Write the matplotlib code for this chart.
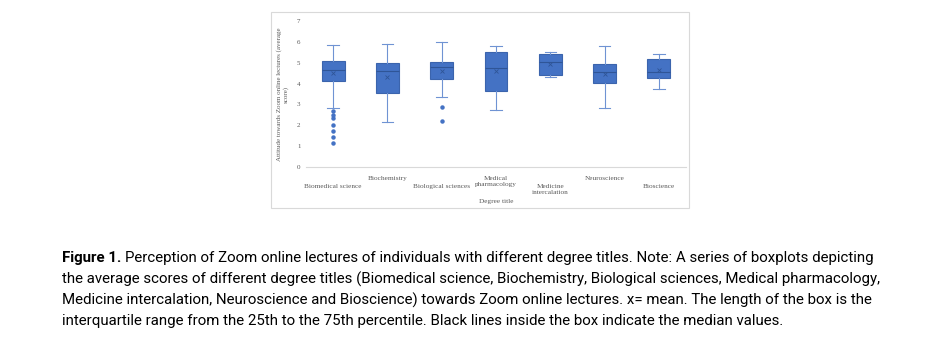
import matplotlib.pyplot as plt
import matplotlib.patches as mpatches
from matplotlib import font_manager

# data
degrees = ["Biomedical science", "Biochemistry", "Biological sciences",
           "Medical\npharmacology", "Medicine\nintercalation", "Neuroscience", "Bioscience"]
whislo = [2.81, 2.16, 3.38, 2.73, 4.33, 2.81, 3.76]
q1     = [4.13, 3.54, 4.21, 3.62, 4.40, 4.02, 4.25]
med    = [4.63, 4.60, 4.78, 4.73, 5.02, 4.54, 4.54]
q3     = [5.08, 5.00, 5.05, 5.52, 5.44, 4.94, 5.19]
whishi = [5.86, 5.92, 5.97, 5.78, 5.49, 5.79, 5.44]
means  = [4.49, 4.30, 4.60, 4.62, 4.94, 4.48, 4.65]
fliers = [[2.67, 2.49, 2.33, 2.0, 1.71, 1.43, 1.13], [], [2.86, 2.22], [], [], [], []]
label_low = [True, False, True, False, True, False, True]

names = [f.name for f in font_manager.fontManager.ttflist]
cap_font = "Liberation Sans Narrow" if "Liberation Sans Narrow" in names else "Roboto"
serif = "Liberation Serif"

W, H = 945, 345
fig = plt.figure(figsize=(W / 100, H / 100), dpi=100)

# chart frame
fig.patches.append(mpatches.Rectangle((271 / W, 1 - 208 / H), 418 / W, 196 / H,
                                      transform=fig.transFigure, fill=False,
                                      edgecolor="#d9d9d9", linewidth=0.8))

ax = fig.add_axes([306 / W, 1 - 167 / H, 380 / W, 146 / H])

stats = []
for i in range(len(degrees)):
    stats.append(dict(whislo=whislo[i], q1=q1[i], med=med[i], q3=q3[i],
                      whishi=whishi[i], mean=means[i], fliers=fliers[i]))

ax.bxp(stats, positions=range(len(degrees)), widths=0.42, patch_artist=True,
       showmeans=True,
       boxprops=dict(facecolor="#4472C4", edgecolor="#3B64AD", linewidth=0.8),
       medianprops=dict(color="#2F5597", linewidth=0.8),
       whiskerprops=dict(color="#6F93D3", linewidth=0.8),
       capprops=dict(color="#6F93D3", linewidth=0.8),
       meanprops=dict(marker="x", markeredgecolor="#2F5597", markersize=3.5, markeredgewidth=0.6),
       flierprops=dict(marker="o", markerfacecolor="#4472C4", markeredgecolor="#4472C4",
                       markersize=2.2))

ax.set_xlim(-0.5, len(degrees) - 0.5)
ax.set_ylim(0, 7)
ax.set_yticks(range(8))
ax.tick_params(axis="y", length=0, labelsize=5, labelcolor="#595959", pad=4)
ax.tick_params(axis="x", length=0)
ax.set_xticks([])
for lbl in ax.get_yticklabels():
    lbl.set_family(serif)
for s in ["top", "right", "left"]:
    ax.spines[s].set_visible(False)
ax.spines["bottom"].set_color("#d9d9d9")
ax.spines["bottom"].set_linewidth(0.8)

# staggered category labels, like the Excel original
for i, name in enumerate(degrees):
    off = -17 if label_low[i] else -9
    ax.annotate(name, xy=(i, 0), xycoords=("data", "axes fraction"),
                xytext=(0, off), textcoords="offset pixels", ha="center", va="top",
                fontsize=5.2, family=serif, color="#595959", linespacing=1.2)

ax.annotate("Degree title", xy=(0.5, 0), xycoords="axes fraction", xytext=(0, -34),
            textcoords="offset pixels", ha="center", va="center", fontsize=5.2,
            family=serif, color="#595959")
ax.set_ylabel("Attitude towards Zoom online lectures (average\nscore)", fontsize=5,
              family=serif, color="#595959", labelpad=6, linespacing=1.2)

caption = [
    "Perception of Zoom online lectures of individuals with different degree titles. Note: A series of boxplots depicting",
    "the average scores of different degree titles (Biomedical science, Biochemistry, Biological sciences, Medical pharmacology,",
    "Medicine intercalation, Neuroscience and Bioscience) towards Zoom online lectures. x= mean. The length of the box is the",
    "interquartile range from the 25th to the 75th percentile. Black lines inside the box indicate the median values.",
]
fs = 10.8
t = fig.text(62 / W, 1 - 258 / H, "Figure 1.", fontsize=fs, family=cap_font,
             weight="bold", va="center", ha="left")
fig.canvas.draw()
bb = t.get_window_extent()
fig.text((bb.x1 + 4) / W, 1 - 258 / H, caption[0], fontsize=fs, family=cap_font,
         va="center", ha="left")
for k, line in enumerate(caption[1:]):
    fig.text(62 / W, 1 - (279 + 21 * k) / H, line, fontsize=fs, family=cap_font,
             va="center", ha="left")

fig.savefig("out.png", dpi=100)
